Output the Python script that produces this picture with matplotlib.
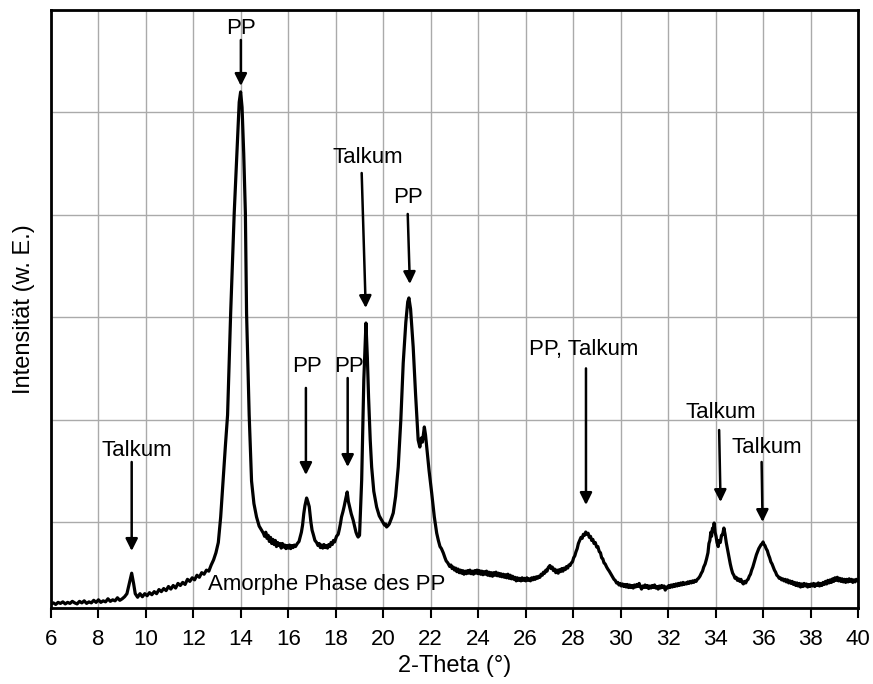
import matplotlib
matplotlib.use("Agg")
import matplotlib.pyplot as plt

plt.rcParams['font.family'] = ['Liberation Sans', 'DejaVu Sans']

# XRD pattern: (2-theta in degrees, intensity in arb. units)
pattern = [
    (6.0, 200), (6.1, 210), (6.2, 195), (6.3, 215), (6.4, 205), (6.5, 220), (6.6, 200),
    (6.7, 215), (6.8, 205), (6.9, 225), (7.0, 210), (7.1, 200), (7.2, 225), (7.3, 210),
    (7.4, 230), (7.5, 205), (7.6, 220), (7.7, 210), (7.8, 235), (7.9, 215), (8.0, 240),
    (8.1, 215), (8.2, 230), (8.3, 220), (8.4, 250), (8.5, 225), (8.6, 240), (8.7, 230),
    (8.8, 260), (8.9, 235), (9.0, 250), (9.1, 270), (9.2, 300), (9.3, 400), (9.4, 500),
    (9.48, 400), (9.55, 300), (9.65, 265), (9.75, 300), (9.85, 270), (9.95, 300),
    (10.05, 280), (10.15, 310), (10.25, 290), (10.35, 320), (10.45, 300), (10.55, 340),
    (10.65, 320), (10.75, 350), (10.85, 330), (10.95, 370), (11.05, 345), (11.15, 380),
    (11.25, 355), (11.35, 400), (11.45, 380), (11.55, 410), (11.65, 390), (11.75, 440),
    (11.85, 420), (11.95, 455), (12.05, 435), (12.15, 480), (12.25, 460), (12.35, 505),
    (12.45, 490), (12.55, 530), (12.65, 520), (12.75, 580), (12.85, 630), (12.95, 700),
    (13.05, 800), (13.15, 1050), (13.25, 1400), (13.35, 1750), (13.44, 2045),
    (13.57, 3040), (13.72, 4018), (13.85, 4700), (13.93, 5100), (13.99, 5200),
    (14.05, 5050), (14.12, 4600), (14.19, 4018), (14.24, 3041), (14.35, 2045),
    (14.45, 1400), (14.55, 1180), (14.66, 1049), (14.77, 960), (14.87, 922), (14.95, 890),
    (15.0, 860), (15.05, 900), (15.1, 840), (15.15, 870), (15.2, 810), (15.25, 850),
    (15.3, 790), (15.35, 830), (15.4, 780), (15.45, 820), (15.5, 760), (15.55, 800),
    (15.6, 770), (15.65, 790), (15.7, 745), (15.75, 790), (15.8, 755), (15.85, 775),
    (15.9, 740), (15.95, 770), (16.0, 745), (16.05, 775), (16.1, 740), (16.15, 770),
    (16.2, 750), (16.25, 775), (16.3, 760), (16.38, 790), (16.45, 810), (16.55, 900),
    (16.6, 970), (16.65, 1080), (16.7, 1160), (16.77, 1234), (16.82, 1200), (16.88, 1150),
    (16.95, 1000), (17.0, 920), (17.05, 880), (17.12, 820), (17.19, 800), (17.25, 770),
    (17.3, 790), (17.35, 750), (17.4, 775), (17.45, 745), (17.5, 780), (17.55, 750),
    (17.6, 770), (17.65, 745), (17.7, 780), (17.75, 760), (17.8, 800), (17.85, 780),
    (17.9, 820), (17.95, 805), (18.03, 860), (18.1, 880), (18.15, 930), (18.2, 990),
    (18.24, 1049), (18.3, 1100), (18.35, 1150), (18.42, 1230), (18.48, 1293),
    (18.53, 1200), (18.58, 1150), (18.65, 1080), (18.73, 1019), (18.8, 950), (18.85, 900),
    (18.9, 870), (18.94, 853), (19.0, 870), (19.09, 1410), (19.18, 2387), (19.27, 2943),
    (19.33, 2600), (19.38, 2221), (19.45, 1800), (19.51, 1537), (19.6, 1300),
    (19.72, 1146), (19.83, 1060), (19.93, 1019), (20.0, 990), (20.05, 970), (20.1, 980),
    (20.14, 951), (20.2, 965), (20.25, 980), (20.35, 1040), (20.42, 1088), (20.52, 1250),
    (20.63, 1537), (20.74, 2000), (20.84, 2553), (20.95, 2950), (21.03, 3150),
    (21.08, 3188), (21.15, 3080), (21.26, 2709), (21.36, 2250), (21.47, 1801),
    (21.54, 1732), (21.6, 1820), (21.65, 1780), (21.73, 1928), (21.78, 1850),
    (21.83, 1732), (21.93, 1500), (22.04, 1283), (22.15, 1050), (22.25, 892), (22.32, 820),
    (22.39, 760), (22.45, 740), (22.53, 697), (22.6, 650), (22.65, 620), (22.72, 600),
    (22.8, 565), (22.85, 580), (22.9, 545), (22.95, 560), (23.0, 530), (23.05, 550),
    (23.1, 515), (23.15, 540), (23.2, 505), (23.25, 530), (23.3, 500), (23.35, 525),
    (23.4, 490), (23.45, 520), (23.5, 495), (23.55, 525), (23.6, 500), (23.65, 530),
    (23.7, 495), (23.75, 520), (23.8, 490), (23.85, 525), (23.9, 500), (23.95, 530),
    (24.0, 495), (24.05, 525), (24.1, 490), (24.15, 520), (24.2, 485), (24.25, 515),
    (24.3, 490), (24.35, 520), (24.4, 480), (24.45, 510), (24.5, 475), (24.55, 505),
    (24.6, 470), (24.65, 505), (24.7, 480), (24.75, 510), (24.8, 475), (24.85, 500),
    (24.9, 470), (24.95, 495), (25.0, 465), (25.05, 490), (25.1, 460), (25.15, 485),
    (25.2, 455), (25.25, 490), (25.3, 450), (25.35, 480), (25.4, 445), (25.45, 470),
    (25.5, 440), (25.55, 460), (25.6, 425), (25.65, 455), (25.7, 430), (25.75, 450),
    (25.8, 425), (25.85, 455), (25.9, 430), (25.95, 450), (26.0, 425), (26.05, 455),
    (26.1, 430), (26.15, 445), (26.2, 425), (26.25, 455), (26.3, 435), (26.35, 460),
    (26.4, 440), (26.45, 465), (26.5, 450), (26.55, 470), (26.6, 460), (26.65, 490),
    (26.7, 480), (26.75, 510), (26.8, 500), (26.85, 530), (26.9, 520), (26.95, 555),
    (27.02, 575), (27.07, 545), (27.12, 560), (27.17, 525), (27.22, 540), (27.27, 505),
    (27.32, 530), (27.37, 500), (27.42, 535), (27.47, 515), (27.52, 545), (27.57, 520),
    (27.62, 550), (27.67, 535), (27.72, 565), (27.77, 550), (27.82, 580), (27.87, 575),
    (27.92, 600), (27.97, 610), (28.02, 650), (28.07, 670), (28.12, 710), (28.17, 740),
    (28.22, 790), (28.28, 824), (28.33, 850), (28.38, 840), (28.43, 880), (28.48, 870),
    (28.53, 902), (28.58, 880), (28.63, 890), (28.68, 850), (28.73, 860), (28.78, 820),
    (28.83, 830), (28.88, 790), (28.93, 800), (28.99, 756), (29.04, 760), (29.1, 710),
    (29.15, 700), (29.2, 650), (29.25, 640), (29.3, 600), (29.35, 590), (29.41, 560),
    (29.46, 540), (29.52, 520), (29.57, 500), (29.62, 480), (29.67, 460), (29.72, 440),
    (29.77, 430), (29.83, 404), (29.88, 410), (29.93, 385), (29.98, 400), (30.03, 375),
    (30.08, 395), (30.13, 370), (30.18, 390), (30.23, 365), (30.28, 390), (30.33, 360),
    (30.38, 385), (30.43, 360), (30.48, 380), (30.53, 355), (30.58, 385), (30.63, 365),
    (30.68, 390), (30.73, 370), (30.78, 400), (30.83, 370), (30.88, 345), (30.93, 375),
    (30.98, 360), (31.03, 385), (31.08, 360), (31.13, 380), (31.18, 350), (31.23, 375),
    (31.28, 355), (31.33, 380), (31.38, 360), (31.43, 385), (31.48, 355), (31.53, 370),
    (31.58, 345), (31.63, 375), (31.68, 355), (31.73, 380), (31.78, 360), (31.83, 375),
    (31.88, 335), (31.93, 365), (31.98, 355), (32.03, 380), (32.08, 360), (32.13, 385),
    (32.18, 365), (32.23, 390), (32.28, 370), (32.33, 395), (32.38, 375), (32.43, 400),
    (32.48, 380), (32.53, 405), (32.58, 385), (32.63, 410), (32.68, 390), (32.73, 405),
    (32.78, 395), (32.83, 415), (32.88, 400), (32.93, 420), (32.98, 405), (33.03, 425),
    (33.08, 410), (33.13, 430), (33.18, 420), (33.23, 440), (33.28, 450), (33.34, 470),
    (33.4, 500), (33.45, 520), (33.5, 560), (33.56, 590), (33.62, 640), (33.68, 700),
    (33.72, 790), (33.76, 820), (33.8, 900), (33.83, 860), (33.87, 940), (33.91, 920),
    (33.94, 990), (33.98, 900), (34.02, 860), (34.06, 800), (34.11, 760), (34.15, 820),
    (34.2, 800), (34.25, 870), (34.3, 880), (34.35, 941), (34.4, 880), (34.45, 800),
    (34.49, 750), (34.53, 697), (34.58, 640), (34.62, 590), (34.67, 540), (34.72, 500),
    (34.77, 480), (34.82, 450), (34.87, 460), (34.92, 430), (34.97, 445), (35.02, 420),
    (35.07, 440), (35.12, 410), (35.17, 395), (35.22, 420), (35.27, 405), (35.32, 430),
    (35.37, 440), (35.42, 470), (35.47, 490), (35.52, 530), (35.57, 560), (35.62, 600),
    (35.67, 640), (35.72, 680), (35.77, 710), (35.82, 740), (35.87, 760), (35.92, 780),
    (35.97, 790), (36.0, 805), (36.04, 780), (36.08, 770), (36.13, 740), (36.18, 720),
    (36.23, 680), (36.28, 650), (36.33, 610), (36.38, 590), (36.43, 560), (36.48, 530),
    (36.53, 510), (36.58, 480), (36.63, 470), (36.68, 450), (36.73, 455), (36.78, 435),
    (36.83, 445), (36.88, 425), (36.93, 440), (36.98, 415), (37.03, 435), (37.08, 405),
    (37.13, 425), (37.18, 400), (37.23, 420), (37.28, 390), (37.33, 410), (37.38, 380),
    (37.43, 405), (37.48, 375), (37.53, 400), (37.58, 365), (37.63, 395), (37.68, 370),
    (37.73, 400), (37.78, 375), (37.83, 395), (37.88, 365), (37.93, 390), (37.98, 370),
    (38.03, 395), (38.08, 375), (38.13, 400), (38.18, 370), (38.23, 395), (38.28, 380),
    (38.33, 405), (38.38, 375), (38.43, 400), (38.48, 380), (38.53, 410), (38.58, 390),
    (38.63, 420), (38.68, 395), (38.73, 430), (38.78, 405), (38.83, 435), (38.88, 410),
    (38.93, 445), (38.98, 420), (39.03, 455), (39.08, 430), (39.13, 460), (39.18, 425),
    (39.23, 450), (39.28, 420), (39.33, 445), (39.38, 415), (39.43, 440), (39.48, 410),
    (39.53, 440), (39.58, 415), (39.63, 445), (39.68, 420), (39.73, 440), (39.78, 410),
    (39.83, 435), (39.88, 415), (39.93, 440), (40.0, 425),
]
theta = [p[0] for p in pattern]
intensity = [p[1] for p in pattern]

# annotations: label, text position, arrow tail, arrow head
labels = ["Talkum", "PP", "PP", "PP", "Talkum", "PP", "PP, Talkum", "Talkum", "Talkum"]
text_xy = [(9.61, 1703), (14.0, 5824), (16.80, 2514), (18.55, 2514), (19.35, 4555),
           (21.04, 4164), (28.45, 2680), (34.22, 2074), (36.15, 1732)]
tail_xy = [(9.4, 1586), (14.0, 5707), (16.74, 2309), (18.50, 2406), (19.09, 4408),
           (21.03, 4008), (28.54, 2500), (34.15, 1898), (35.94, 1586)]
head_xy = [(9.4, 717), (14.0, 5258), (16.74, 1459), (18.50, 1537), (19.26, 3090),
           (21.12, 3324), (28.54, 1166), (34.21, 1195), (35.98, 1000)]

fig = plt.figure(figsize=(8.73, 6.84), dpi=100)
ax = fig.add_axes([0.0584, 0.1111, 0.9244, 0.8743])

ax.plot(theta, intensity, color="black", linewidth=2.3)

for lab, t, a, h in zip(labels, text_xy, tail_xy, head_xy):
    ax.text(t[0], t[1], lab, fontsize=16, ha="center", va="center")
    ax.annotate("", xy=h, xytext=a,
                arrowprops=dict(arrowstyle="-|>", color="black", lw=1.8,
                                mutation_scale=18, shrinkA=0, shrinkB=0))

ax.text(12.61, 385, "Amorphe Phase des PP", fontsize=16, ha="left", va="center")

ax.set_xlim(6, 40)
ax.set_ylim(160, 6000)
ax.set_xticks(range(6, 41, 2))
ax.set_yticks([1000, 2000, 3000, 4000, 5000, 6000])
ax.set_yticklabels([])
ax.tick_params(axis="x", direction="out", length=7, width=1.5, labelsize=16, pad=8)
ax.tick_params(axis="y", length=0)
ax.grid(True, color="#aaaaaa", linewidth=1)
for s in ax.spines.values():
    s.set_linewidth(2)

ax.set_xlabel("2-Theta (°)", fontsize=17, labelpad=4)
ax.set_ylabel("Intensität (w. E.)", fontsize=17, labelpad=8)

fig.savefig("out.png", dpi=100)
